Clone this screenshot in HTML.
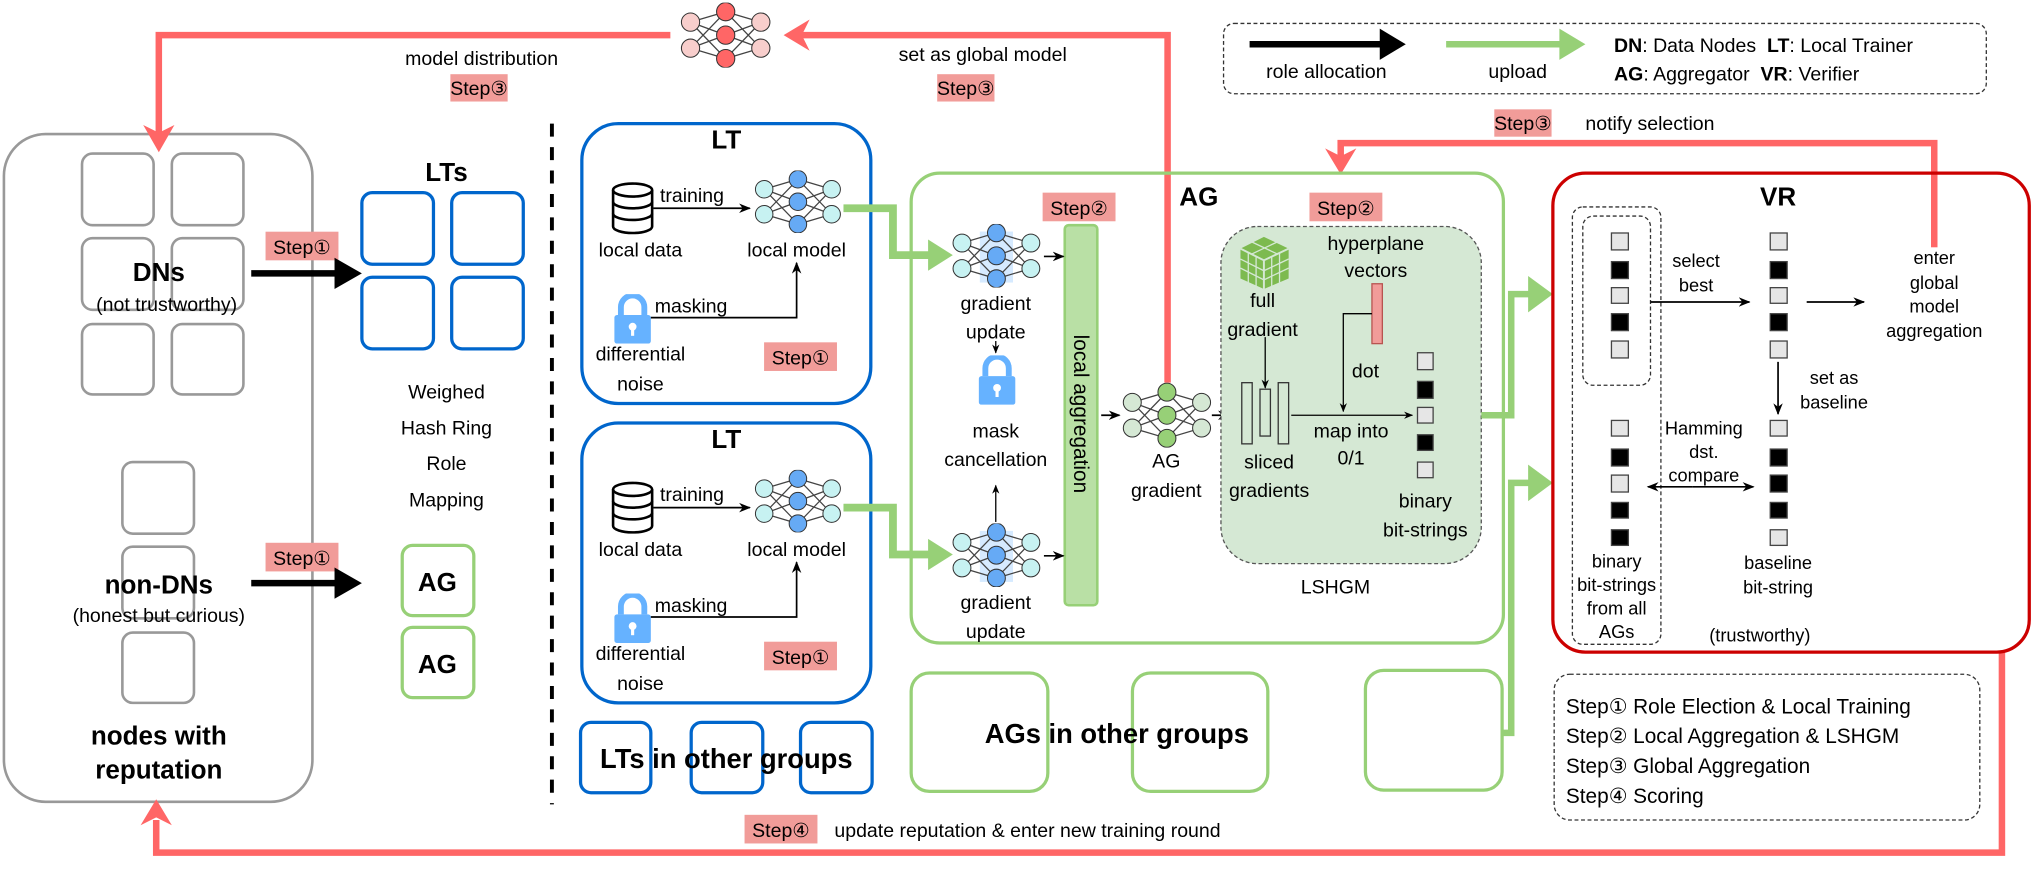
<!DOCTYPE html>
<html><head><meta charset="utf-8"><style>
html,body{margin:0;padding:0;background:#fff;}
svg{display:block;}
text{font-family:"Liberation Sans",Arial,sans-serif;fill:#000;}
</style></head><body>
<svg width="2041" height="876" viewBox="0 0 1568 673" xmlns="http://www.w3.org/2000/svg">
<defs>
<marker id="ab" viewBox="0 0 10 10" refX="9" refY="5" markerWidth="7" markerHeight="7" orient="auto"><path d="M0,1 L10,5 L0,9 L3,5z" fill="#000"/></marker>
<symbol id="netB" viewBox="0 0 70 50"><g stroke="#444" stroke-width="1" fill="none">
<path d="M8,15L35,7M8,15L35,25M8,15L35,43M8,35L35,7M8,35L35,25M8,35L35,43M62,15L35,7M62,15L35,25M62,15L35,43M62,35L35,7M62,35L35,25M62,35L35,43"/></g>
<g stroke="#333" stroke-width="0.8"><circle cx="8" cy="15" r="7" fill="#C7F2F2"/><circle cx="8" cy="35" r="7" fill="#C7F2F2"/><circle cx="62" cy="15" r="7" fill="#C7F2F2"/><circle cx="62" cy="35" r="7" fill="#C7F2F2"/>
<circle cx="35" cy="7" r="7" fill="#66AAF5"/><circle cx="35" cy="25" r="7" fill="#66AAF5"/><circle cx="35" cy="43" r="7" fill="#66AAF5"/></g></symbol>
<symbol id="netBH" viewBox="0 0 70 50"><rect x="22" y="6" width="26" height="40" fill="#CCE5FF" opacity="0.8"/><use href="#netB" width="70" height="50"/></symbol>
<symbol id="netG" viewBox="0 0 70 50"><g stroke="#444" stroke-width="1" fill="none">
<path d="M8,15L35,7M8,15L35,25M8,15L35,43M8,35L35,7M8,35L35,25M8,35L35,43M62,15L35,7M62,15L35,25M62,15L35,43M62,35L35,7M62,35L35,25M62,35L35,43"/></g>
<g stroke="#333" stroke-width="0.8"><circle cx="8" cy="15" r="7" fill="#D5E8D4"/><circle cx="8" cy="35" r="7" fill="#D5E8D4"/><circle cx="62" cy="15" r="7" fill="#D5E8D4"/><circle cx="62" cy="35" r="7" fill="#D5E8D4"/>
<circle cx="35" cy="7" r="7" fill="#97D077"/><circle cx="35" cy="25" r="7" fill="#97D077"/><circle cx="35" cy="43" r="7" fill="#97D077"/></g></symbol>
<symbol id="netR" viewBox="0 0 70 50"><g stroke="#444" stroke-width="1" fill="none">
<path d="M8,15L35,7M8,15L35,25M8,15L35,43M8,35L35,7M8,35L35,25M8,35L35,43M62,15L35,7M62,15L35,25M62,15L35,43M62,35L35,7M62,35L35,25M62,35L35,43"/></g>
<g stroke="#333" stroke-width="0.8"><circle cx="8" cy="15" r="7" fill="#F8CECC"/><circle cx="8" cy="35" r="7" fill="#F8CECC"/><circle cx="62" cy="15" r="7" fill="#F8CECC"/><circle cx="62" cy="35" r="7" fill="#F8CECC"/>
<circle cx="35" cy="7" r="7" fill="#FF6666"/><circle cx="35" cy="25" r="7" fill="#FF6666"/><circle cx="35" cy="43" r="7" fill="#FF6666"/></g></symbol>
<symbol id="lock" viewBox="0 0 30 38"><path d="M6,16 V10 A9,9 0 0 1 24,10 V16" fill="none" stroke="#66B2FF" stroke-width="4.5"/><rect x="1" y="16" width="28" height="22" rx="2" fill="#66B2FF"/><circle cx="15" cy="25" r="3" fill="#fff"/><rect x="13.8" y="25" width="2.4" height="7" fill="#fff"/></symbol>
<symbol id="db" viewBox="0 0 34 42"><g fill="#fff" stroke="#000" stroke-width="2"><path d="M2,7 V35 A15,5 0 0 0 32,35 V7"/><ellipse cx="17" cy="7" rx="15" ry="5"/><path d="M2,16 A15,5 0 0 0 32,16 M2,25 A15,5 0 0 0 32,25" fill="none"/></g></symbol>
</defs>

<!-- DN box -->
<rect x="3" y="103" width="237" height="513" rx="32" fill="#fff" stroke="#999" stroke-width="2"/>
<g fill="none" stroke="#999" stroke-width="2">
<rect x="63" y="118" width="55" height="55" rx="8"/><rect x="132" y="118" width="55" height="55" rx="8"/>
<rect x="63" y="183" width="55" height="55" rx="8"/><rect x="132" y="183" width="55" height="55" rx="8"/>
<rect x="63" y="249" width="55" height="54" rx="8"/><rect x="132" y="249" width="55" height="54" rx="8"/>
<rect x="94" y="355" width="55" height="55" rx="8"/><rect x="94" y="420" width="55" height="55" rx="8"/><rect x="94" y="486" width="55" height="54" rx="8"/>
</g>
<text x="122" y="216" font-size="20" font-weight="bold" text-anchor="middle">DNs</text>
<text x="128" y="239" font-size="15" text-anchor="middle">(not trustworthy)</text>
<text x="122" y="456" font-size="20" font-weight="bold" text-anchor="middle">non-DNs</text>
<text x="122" y="478" font-size="15" text-anchor="middle">(honest but curious)</text>
<text x="122" y="572" font-size="20" font-weight="bold" text-anchor="middle">nodes with</text>
<text x="122" y="598" font-size="20" font-weight="bold" text-anchor="middle">reputation</text>

<!-- red loops -->
<g stroke="#FF6666" stroke-width="5" fill="none">
<path d="M515,27 H122 V104"/>
<path d="M612,27 H897 V294"/>
<path d="M1486,195 V110 H1030 V124"/>
<path d="M1538,501 V655 H120 V630"/>
</g>
<path d="M110,96 L122,117 L134,96 L122,102z" fill="#FF6666"/>
<path d="M622,15 L602,27 L622,39 L616,27z" fill="#FF6666"/>
<path d="M1018,114 L1030,134 L1042,114 L1030,120z" fill="#FF6666"/>
<path d="M108,634 L120,614 L132,634 L120,628z" fill="#FF6666"/>
<use href="#netR" x="520" y="2" width="75" height="50"/>

<text x="370" y="50" font-size="15" text-anchor="middle">model distribution</text>
<rect x="346" y="57" width="44" height="21" fill="#F19C99"/><text x="368" y="73" font-size="15" text-anchor="middle">Step③</text>
<text x="755" y="47" font-size="15" text-anchor="middle">set as global model</text>
<rect x="720" y="57" width="44" height="21" fill="#F19C99"/><text x="742" y="73" font-size="15" text-anchor="middle">Step③</text>

<!-- legend -->
<rect x="940" y="18" width="586" height="54" rx="8" fill="#fff" stroke="#333" stroke-dasharray="3,2"/>
<path d="M960,34 H1062" stroke="#000" stroke-width="5"/><path d="M1060,22 L1080,34 L1060,46z" fill="#000"/>
<text x="1019" y="60" font-size="15" text-anchor="middle">role allocation</text>
<path d="M1111,34 H1200" stroke="#97D077" stroke-width="5"/><path d="M1198,22 L1218,34 L1198,46z" fill="#97D077"/>
<text x="1166" y="60" font-size="15" text-anchor="middle">upload</text>
<text x="1240" y="40" font-size="15" xml:space="preserve"><tspan font-weight="bold">DN</tspan>: Data Nodes  <tspan font-weight="bold">LT</tspan>: Local Trainer</text>
<text x="1240" y="62" font-size="15" xml:space="preserve"><tspan font-weight="bold">AG</tspan>: Aggregator  <tspan font-weight="bold">VR</tspan>: Verifier</text>

<rect x="1148" y="84" width="44" height="21" fill="#F19C99"/><text x="1170" y="100" font-size="15" text-anchor="middle">Step③</text>
<text x="1218" y="100" font-size="15">notify selection</text>

<!-- Step1 arrows -->
<rect x="204" y="178" width="56" height="22" fill="#F19C99"/><text x="232" y="195" font-size="15" text-anchor="middle">Step①</text>
<path d="M193,210 H260" stroke="#000" stroke-width="5"/><path d="M257,198 L278,210 L257,222z" fill="#000"/>
<rect x="204" y="417" width="56" height="22" fill="#F19C99"/><text x="232" y="434" font-size="15" text-anchor="middle">Step①</text>
<path d="M193,448 H260" stroke="#000" stroke-width="5"/><path d="M257,436 L278,448 L257,460z" fill="#000"/>

<text x="343" y="139" font-size="20" font-weight="bold" text-anchor="middle">LTs</text>
<g fill="#fff" stroke="#0066CC" stroke-width="2.5">
<rect x="278" y="148" width="55" height="55" rx="8"/><rect x="347" y="148" width="55" height="55" rx="8"/>
<rect x="278" y="213" width="55" height="55" rx="8"/><rect x="347" y="213" width="55" height="55" rx="8"/>
</g>
<g font-size="15" text-anchor="middle"><text x="343" y="306">Weighed</text><text x="343" y="334">Hash Ring</text><text x="343" y="361">Role</text><text x="343" y="389">Mapping</text></g>
<g fill="#fff" stroke="#97D077" stroke-width="2.5"><rect x="309" y="419" width="55" height="54" rx="8"/><rect x="309" y="482" width="55" height="54" rx="8"/></g>
<text x="336" y="454" font-size="20" font-weight="bold" text-anchor="middle">AG</text>
<text x="336" y="517" font-size="20" font-weight="bold" text-anchor="middle">AG</text>

<path d="M424,95 V618" stroke="#000" stroke-width="3" stroke-dasharray="10,8"/>

<!-- LT boxes -->
<g id="lt1">
<rect x="447" y="95" width="222" height="215" rx="28" fill="#fff" stroke="#0066CC" stroke-width="2.5"/>
<text x="558" y="114" font-size="20" font-weight="bold" text-anchor="middle">LT</text>
<use href="#db" x="469" y="139" width="34" height="42"/>
<text x="507" y="155" font-size="15">training</text>
<path d="M502,160 H576" stroke="#000" stroke-width="1.3" marker-end="url(#ab)"/>
<use href="#netB" x="578" y="131" width="70" height="48"/>
<text x="492" y="197" font-size="15" text-anchor="middle">local data</text>
<text x="612" y="197" font-size="15" text-anchor="middle">local model</text>
<use href="#lock" x="471" y="226" width="30" height="38"/>
<text x="503" y="240" font-size="15">masking</text>
<path d="M500,244 H612 V202" stroke="#000" stroke-width="1.3" fill="none" marker-end="url(#ab)"/>
<text x="492" y="277" font-size="15" text-anchor="middle">differential</text>
<text x="492" y="300" font-size="15" text-anchor="middle">noise</text>
<rect x="587" y="263" width="56" height="22" fill="#F19C99"/><text x="615" y="280" font-size="15" text-anchor="middle">Step①</text>
<path d="M648,160 H686 V196 H715" stroke="#97D077" stroke-width="6" fill="none"/>
<path d="M713,184 L732,196 L713,208z" fill="#97D077"/>
</g>
<use href="#lt1" y="230"/>

<g fill="#fff" stroke="#0066CC" stroke-width="2.5"><rect x="446" y="555" width="54" height="54" rx="8"/><rect x="531" y="555" width="55" height="54" rx="8"/><rect x="615" y="555" width="55" height="54" rx="8"/></g>
<text x="558" y="590" font-size="21" font-weight="bold" text-anchor="middle">LTs in other groups</text>

<!-- AG box -->
<rect x="700" y="133" width="455" height="361" rx="22" fill="none" stroke="#97D077" stroke-width="2.5"/>
<text x="921" y="158" font-size="20" font-weight="bold" text-anchor="middle">AG</text>
<rect x="801" y="148" width="56" height="22" fill="#F19C99"/><text x="829" y="165" font-size="15" text-anchor="middle">Step②</text>
<rect x="818" y="173" width="25" height="292" rx="3" fill="#B9E0A5" stroke="#97D077" stroke-width="2"/>
<text x="830" y="318" font-size="16" text-anchor="middle" transform="rotate(90 830 318)" dy="5">local aggregation</text>
<use href="#netBH" x="731" y="172" width="69" height="49"/>
<text x="765" y="238" font-size="15" text-anchor="middle">gradient</text>
<text x="765" y="260" font-size="15" text-anchor="middle">update</text>
<path d="M765,262 V271" stroke="#000" stroke-width="1" marker-end="url(#ab)"/>
<use href="#lock" x="751" y="273" width="30" height="38"/>
<text x="765" y="336" font-size="15" text-anchor="middle">mask</text>
<text x="765" y="358" font-size="15" text-anchor="middle">cancellation</text>
<path d="M765,401 V373" stroke="#000" stroke-width="1" marker-end="url(#ab)"/>
<use href="#netBH" x="731" y="402" width="69" height="49"/>
<text x="765" y="468" font-size="15" text-anchor="middle">gradient</text>
<text x="765" y="490" font-size="15" text-anchor="middle">update</text>
<path d="M802,197 H817" stroke="#000" stroke-width="1.3" marker-end="url(#ab)"/>
<path d="M802,427 H817" stroke="#000" stroke-width="1.3" marker-end="url(#ab)"/>
<path d="M846,319 H860" stroke="#000" stroke-width="1.3" marker-end="url(#ab)"/>
<use href="#netG" x="862" y="294" width="69" height="50"/>
<text x="896" y="359" font-size="15" text-anchor="middle">AG</text>
<text x="896" y="382" font-size="15" text-anchor="middle">gradient</text>
<path d="M931,319 H944" stroke="#000" stroke-width="1.3" marker-end="url(#ab)"/>

<!-- LSHGM -->
<rect x="938" y="174" width="200" height="259" rx="28" fill="#D5E8D4" stroke="#555" stroke-dasharray="3,2"/>
<rect x="1006" y="148" width="56" height="22" fill="#F19C99"/><text x="1034" y="165" font-size="15" text-anchor="middle">Step②</text>
<g transform="translate(953,182)">
<path d="M18,0 L37,9 L37,32 L18,40 L0,32 L0,9z" fill="#7DBA4F"/>
<path d="M0,9 L18,18 L37,9 M18,18 V40" stroke="#D5E8D4" stroke-width="1.5" fill="none"/>
<path d="M6,12 L6,35 M12,15 V38 M24,15 V38 M30,12 V35 M0,17 L18,26 L37,17 M0,24 L18,33 L37,24 M9,4 L28,13 M28,4 L9,13" stroke="#D5E8D4" stroke-width="1" fill="none"/>
</g>
<text x="970" y="236" font-size="15" text-anchor="middle">full</text>
<text x="970" y="258" font-size="15" text-anchor="middle">gradient</text>
<text x="1057" y="192" font-size="15" text-anchor="middle">hyperplane</text>
<text x="1057" y="213" font-size="15" text-anchor="middle">vectors</text>
<rect x="1054" y="218" width="8" height="46" fill="#F19C99" stroke="#B85450"/>
<path d="M1054,241 H1032 V316" stroke="#000" stroke-width="1" fill="none" marker-end="url(#ab)"/>
<text x="1049" y="290" font-size="15" text-anchor="middle">dot</text>
<g fill="none" stroke="#333" stroke-width="1"><rect x="954" y="294" width="8" height="47"/><rect x="968" y="299" width="8" height="36"/><rect x="982" y="294" width="8" height="47"/></g>
<path d="M972,259 V298" stroke="#000" stroke-width="1" marker-end="url(#ab)"/>
<path d="M992,319 H1085" stroke="#000" stroke-width="1" marker-end="url(#ab)"/>
<text x="1038" y="336" font-size="15" text-anchor="middle">map into</text>
<text x="1038" y="357" font-size="15" text-anchor="middle">0/1</text>
<text x="975" y="360" font-size="15" text-anchor="middle">sliced</text>
<text x="975" y="382" font-size="15" text-anchor="middle">gradients</text>
<g stroke="#444" stroke-width="1"><rect x="1089" y="271" width="12" height="13" fill="#E6E6E6"/><rect x="1089" y="293" width="12" height="13" fill="#000"/><rect x="1089" y="313" width="12" height="12" fill="#E6E6E6"/><rect x="1089" y="334" width="12" height="12" fill="#000"/><rect x="1089" y="355" width="12" height="12" fill="#E6E6E6"/></g>
<text x="1095" y="390" font-size="15" text-anchor="middle">binary</text>
<text x="1095" y="412" font-size="15" text-anchor="middle">bit-strings</text>
<text x="1026" y="456" font-size="15" text-anchor="middle">LSHGM</text>

<!-- green uploads to VR -->
<path d="M1138,319 H1161 V226 H1178" stroke="#97D077" stroke-width="5" fill="none"/>
<path d="M1174,212 L1193,226 L1174,240z" fill="#97D077"/>
<path d="M1155,563 H1161 V371 H1178" stroke="#97D077" stroke-width="5" fill="none"/>
<path d="M1174,357 L1193,371 L1174,385z" fill="#97D077"/>

<g fill="#fff" stroke="#97D077" stroke-width="2.5"><rect x="700" y="517" width="105" height="91" rx="14"/><rect x="870" y="517" width="104" height="91" rx="14"/><rect x="1049" y="515" width="105" height="92" rx="14"/></g>
<text x="858" y="571" font-size="21" font-weight="bold" text-anchor="middle">AGs in other groups</text>

<!-- VR -->
<rect x="1193" y="133" width="366" height="368" rx="25" fill="none" stroke="#CC0000" stroke-width="2.5"/>
<text x="1366" y="158" font-size="20" font-weight="bold" text-anchor="middle">VR</text>
<rect x="1208" y="159" width="68" height="336" rx="8" fill="none" stroke="#333" stroke-dasharray="3,2"/>
<rect x="1216" y="166" width="52" height="130" rx="8" fill="none" stroke="#333" stroke-dasharray="3,2"/>
<g stroke="#444" stroke-width="1">
<rect x="1238" y="179" width="13" height="13" fill="#E6E6E6"/><rect x="1238" y="201" width="13" height="13" fill="#000"/><rect x="1238" y="221" width="13" height="12" fill="#E6E6E6"/><rect x="1238" y="241" width="13" height="13" fill="#000"/><rect x="1238" y="262" width="13" height="13" fill="#E6E6E6"/>
<rect x="1360" y="179" width="13" height="13" fill="#E6E6E6"/><rect x="1360" y="201" width="13" height="13" fill="#000"/><rect x="1360" y="221" width="13" height="12" fill="#E6E6E6"/><rect x="1360" y="241" width="13" height="13" fill="#000"/><rect x="1360" y="262" width="13" height="13" fill="#E6E6E6"/>
<rect x="1238" y="323" width="13" height="12" fill="#E6E6E6"/><rect x="1238" y="345" width="13" height="13" fill="#000"/><rect x="1238" y="365" width="13" height="13" fill="#E6E6E6"/><rect x="1238" y="386" width="13" height="12" fill="#000"/><rect x="1238" y="407" width="13" height="12" fill="#000"/>
<rect x="1360" y="323" width="13" height="12" fill="#E6E6E6"/><rect x="1360" y="345" width="13" height="13" fill="#000"/><rect x="1360" y="365" width="13" height="13" fill="#000"/><rect x="1360" y="386" width="13" height="12" fill="#000"/><rect x="1360" y="407" width="13" height="12" fill="#E6E6E6"/>
</g>
<path d="M1268,232 H1344" stroke="#000" stroke-width="1.3" marker-end="url(#ab)"/>
<text x="1303" y="205" font-size="14" text-anchor="middle">select</text>
<text x="1303" y="224" font-size="14" text-anchor="middle">best</text>
<path d="M1388,232 H1432" stroke="#000" stroke-width="1.3" marker-end="url(#ab)"/>
<rect x="1460" y="190" width="52" height="12" fill="#fff"/>
<g font-size="14" text-anchor="middle"><text x="1486" y="203">enter</text><text x="1486" y="222">global</text><text x="1486" y="240">model</text><text x="1486" y="259">aggregation</text></g>
<path d="M1366,278 V318" stroke="#000" stroke-width="1.3" marker-end="url(#ab)"/>
<text x="1409" y="295" font-size="14" text-anchor="middle">set as</text>
<text x="1409" y="314" font-size="14" text-anchor="middle">baseline</text>
<g font-size="14" text-anchor="middle"><text x="1309" y="334">Hamming</text><text x="1309" y="352">dst.</text><text x="1309" y="370">compare</text></g>
<path d="M1300,374 H1347" stroke="#000" stroke-width="1.3" marker-end="url(#ab)"/>
<path d="M1300,374 H1266" stroke="#000" stroke-width="1.3" marker-end="url(#ab)"/>
<g font-size="14" text-anchor="middle"><text x="1242" y="436">binary</text><text x="1242" y="454">bit-strings</text><text x="1242" y="472">from all</text><text x="1242" y="490">AGs</text>
<text x="1366" y="437">baseline</text><text x="1366" y="456">bit-string</text><text x="1352" y="493">(trustworthy)</text></g>

<!-- steps legend -->
<rect x="1194" y="518" width="327" height="112" rx="12" fill="#fff" stroke="#333" stroke-dasharray="3,2"/>
<g font-size="16"><text x="1203" y="548">Step① Role Election &amp; Local Training</text><text x="1203" y="571">Step② Local Aggregation &amp; LSHGM</text><text x="1203" y="594">Step③ Global Aggregation</text><text x="1203" y="617">Step④ Scoring</text></g>

<rect x="572" y="626" width="56" height="22" fill="#F19C99"/><text x="600" y="643" font-size="15" text-anchor="middle">Step④</text>
<text x="641" y="643" font-size="15">update reputation &amp; enter new training round</text>
</svg>
</body></html>
